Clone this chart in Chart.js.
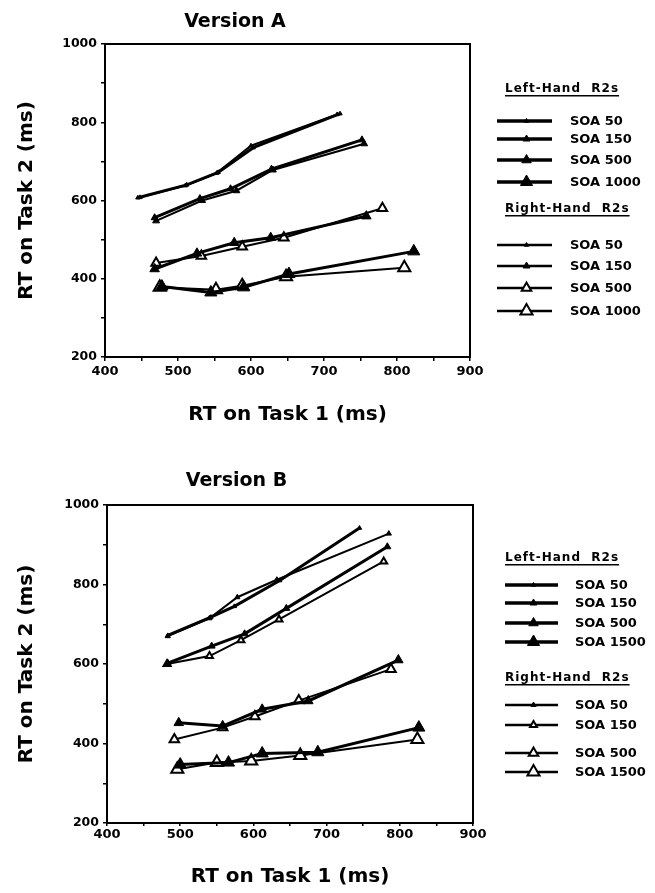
<!DOCTYPE html>
<html>
<head>
<meta charset="utf-8">
<script src="https://cdn.jsdelivr.net/npm/chart.js@4.4.1/dist/chart.umd.min.js"></script>
<style>
  html, body { margin: 0; padding: 0; background: #fff; }
  #wrapA { position: absolute; left: 0; top: 0; width: 655px; height: 445px; }
  #wrapB { position: absolute; left: 0; top: 445px; width: 655px; height: 448px; }
</style>
</head>
<body>
<div id="wrapA"><canvas id="chartA" width="655" height="445"></canvas></div>
<div id="wrapB"><canvas id="chartB" width="655" height="448"></canvas></div>
<script>
// legend labels
const soaA = ['SOA 50', 'SOA 150', 'SOA 500', 'SOA 1000'];
const soaB = ['SOA 50', 'SOA 150', 'SOA 500', 'SOA 1500'];

// Version A: RT1 (x) and RT2 (y), one row per SOA
const aLeftRT1 = [
  [445, 512, 555, 603, 722],
  [468, 530, 572, 628, 752],
  [468, 526, 577, 627, 758],
  [478, 545, 590, 652, 823],
];
const aLeftRT2 = [
  [607, 640, 672, 735, 822],
  [556, 605, 630, 680, 755],
  [425, 465, 492, 505, 560],
  [380, 365, 378, 412, 470],
];
const aRightRT1 = [
  [448, 510, 553, 600, 718],
  [470, 533, 580, 630, 755],
  [470, 532, 588, 645, 780],
  [475, 552, 588, 648, 810],
];
const aRightRT2 = [
  [608, 638, 670, 740, 820],
  [548, 600, 625, 678, 745],
  [440, 458, 482, 505, 580],
  [378, 372, 382, 405, 428],
];

// Version B
const bLeftRT1 = [
  [483, 542, 574, 636, 745],
  [483, 543, 588, 645, 783],
  [498, 558, 612, 675, 798],
  [500, 566, 612, 688, 826],
];
const bLeftRT2 = [
  [672, 718, 745, 810, 942],
  [602, 645, 676, 740, 895],
  [452, 444, 486, 507, 610],
  [347, 352, 375, 378, 440],
];
const bRightRT1 = [
  [483, 540, 578, 632, 785],
  [482, 540, 583, 635, 778],
  [492, 558, 602, 662, 788],
  [496, 550, 597, 664, 824],
];
const bRightRT2 = [
  [670, 715, 768, 812, 928],
  [600, 620, 660, 712, 858],
  [410, 440, 468, 508, 587],
  [335, 352, 356, 370, 410],
];

const FONT = '"DejaVu Sans", "Liberation Sans", sans-serif';

// marker looks per SOA (radius, open?)
const leftMarks = [
  { r: 2.5, open: false }, { r: 4, open: false }, { r: 5.5, open: false }, { r: 7, open: false },
];
const rightMarksA = [
  { r: 2.5, open: false }, { r: 4, open: false }, { r: 5.5, open: true }, { r: 7, open: true },
];
const rightMarksB = [
  { r: 3, open: false }, { r: 4, open: true }, { r: 5.5, open: true }, { r: 7, open: true },
];

function lineSet(label, xs, ys, mark, width) {
  return {
    label: label,
    data: xs.map((x, i) => ({ x: x, y: ys[i] })),
    borderColor: '#000',
    borderWidth: width,
    pointStyle: 'triangle',
    pointRadius: mark.r,
    pointHoverRadius: mark.r,
    pointBackgroundColor: mark.open ? '#fff' : '#000',
    pointBorderColor: '#000',
    pointBorderWidth: mark.open ? 2 : 1,
    tension: 0,
    fill: false,
  };
}

function buildSets(names, lx, ly, rx, ry, rightMarks) {
  const sets = [];
  names.forEach((n, i) => sets.push(lineSet(n, lx[i], ly[i], leftMarks[i], 3)));
  names.forEach((n, i) => sets.push(lineSet(n, rx[i], ry[i], rightMarks[i], 2)));
  return sets;
}

const frame = {
  id: 'frame',
  afterDraw(chart) {
    const { ctx, chartArea: a } = chart;
    ctx.save();
    ctx.strokeStyle = '#000';
    ctx.lineWidth = 2;
    ctx.strokeRect(a.left, a.top, a.right - a.left, a.bottom - a.top);
    ctx.restore();
  }
};

const handLegend = {
  id: 'handLegend',
  afterDraw(chart, args, o) {
    const ctx = chart.ctx;
    ctx.save();
    const headers = ['Left-Hand  R2s', 'Right-Hand  R2s'];
    headers.forEach((h, gi) => {
      ctx.font = 'bold 12px ' + FONT;
      ctx.letterSpacing = '1px';
      ctx.fillStyle = '#000';
      ctx.textBaseline = 'middle';
      ctx.textAlign = 'left';
      ctx.fillText(h, o.headerX, o.headerY[gi]);
      const w = ctx.measureText(h).width;
      ctx.letterSpacing = '0px';
      ctx.fillRect(o.headerX, o.headerY[gi] + 6, w, 1.5);
    });
    chart.data.datasets.forEach((ds, i) => {
      const y = o.itemY[i];
      ctx.strokeStyle = '#000';
      ctx.lineWidth = ds.borderWidth + 0.5;
      ctx.beginPath();
      ctx.moveTo(o.lineX0, y);
      ctx.lineTo(o.lineX1, y);
      ctx.stroke();
      ctx.fillStyle = ds.pointBackgroundColor;
      ctx.lineWidth = ds.pointBorderWidth;
      Chart.helpers.drawPoint(ctx, {
        pointStyle: ds.pointStyle, radius: ds.pointRadius,
        borderWidth: ds.pointBorderWidth, rotation: 0
      }, (o.lineX0 + o.lineX1) / 2 + 2, y);
      ctx.fillStyle = '#000';
      ctx.font = 'bold 13px ' + FONT;
      ctx.textBaseline = 'middle';
      ctx.fillText(ds.label, o.textX, y + 1);
    });
    ctx.restore();
  }
};

function makeChart(id, title, sets, geo) {
  return new Chart(document.getElementById(id), {
    type: 'line',
    data: { datasets: sets },
    plugins: [frame, handLegend],
    options: {
      responsive: false,
      animation: false,
      devicePixelRatio: 1,
      layout: { padding: { left: 0, right: geo.padRight, top: 0, bottom: 0 } },
      plugins: {
        legend: { display: false },
        tooltip: { enabled: false },
        title: {
          display: true,
          text: title,
          color: '#000',
          font: { family: FONT, size: 19, weight: 'bold' },
          padding: geo.titlePad,
        },
        handLegend: geo.legend,
      },
      scales: {
        x: {
          type: 'linear',
          min: 400, max: 900,
          ticks: {
            stepSize: 50,
            color: '#000',
            padding: geo.xTickPad,
            maxRotation: 0,
            autoSkip: false,
            font: { family: FONT, size: 13, weight: 'bold' },
            callback: v => (v % 100 === 0 ? v : ''),
          },
          grid: { drawOnChartArea: false, color: '#000', tickLength: geo.xTickLen, lineWidth: 1.5 },
          border: { color: '#000', width: 2 },
          title: {
            display: true,
            text: 'RT on Task 1 (ms)',
            color: '#000',
            font: { family: FONT, size: 20, weight: 'bold' },
            padding: { top: 0, bottom: geo.xTitleBottom },
          },
          afterFit: s => { s.height = geo.xHeight; },
        },
        y: {
          type: 'linear',
          min: 200, max: 1000,
          ticks: {
            stepSize: 100,
            color: '#000',
            padding: 4,
            font: { family: FONT, size: 12.5, weight: 'bold' },
            callback: v => (v % 200 === 0 ? v : ''),
          },
          grid: { drawOnChartArea: false, color: '#000', tickLength: 4, lineWidth: 1.5 },
          border: { color: '#000', width: 2 },
          title: {
            display: true,
            text: 'RT on Task 2 (ms)',
            color: '#000',
            font: { family: FONT, size: 20, weight: 'bold' },
            padding: { top: 15, bottom: 0 },
          },
          afterFit: s => { s.width = geo.yWidth; },
        },
      },
    },
  });
}

makeChart('chartA', 'Version A', buildSets(soaA, aLeftRT1, aLeftRT2, aRightRT1, aRightRT2, rightMarksA), {
  padRight: 185,
  yWidth: 105,
  xHeight: 88,
  xTitleBottom: 18,
  xTickPad: 3,
  xTickLen: 4,
  titlePad: { top: 10.6, bottom: 10.6 },
  legend: {
    headerX: 505, headerY: [89, 209],
    lineX0: 497, lineX1: 552, textX: 570,
    itemY: [121, 139, 160, 182, 245, 266, 288, 311],
  },
});

makeChart('chartB', 'Version B', buildSets(soaB, bLeftRT1, bLeftRT2, bRightRT1, bRightRT2, rightMarksB), {
  padRight: 182,
  yWidth: 107,
  xHeight: 70,
  xTitleBottom: 4,
  xTickPad: 1,
  xTickLen: 3,
  titlePad: { top: 24.6, bottom: 12.6 },
  legend: {
    headerX: 505, headerY: [113, 233],
    lineX0: 505, lineX1: 558, textX: 575,
    itemY: [140, 158, 178, 197, 260, 280, 308, 327],
  },
});
</script>
</body>
</html>
